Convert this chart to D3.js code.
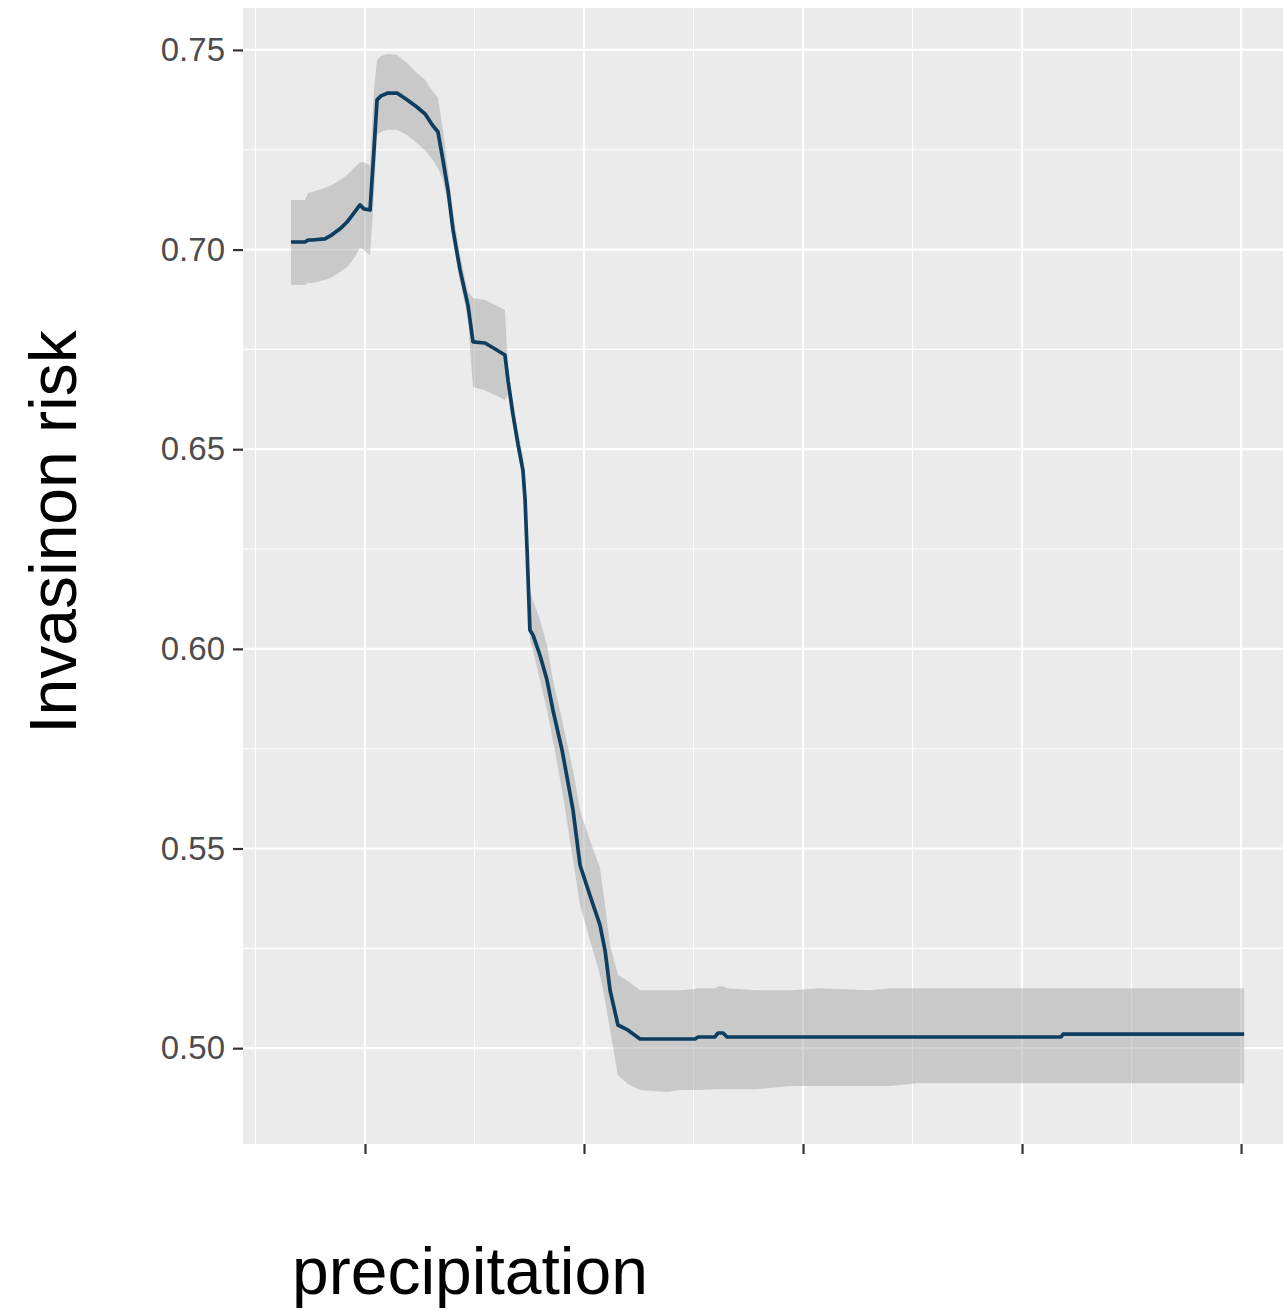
<!DOCTYPE html>
<html>
<head>
<meta charset="utf-8">
<script src="https://cdn.jsdelivr.net/npm/d3@7"></script>
<style>
  body { margin: 0; background: #fff; }
  svg { display: block; font-family: 'Liberation Sans', Arial, sans-serif; }
</style>
</head>
<body>
<div class="container"></div>
<script>
// Data.
const precipitation = [662, 726, 740, 758, 817, 849, 886, 918, 950, 977, 995, 1023, 1041, 1055, 1073,
  1105, 1146, 1192, 1237, 1274, 1310, 1333, 1356, 1379, 1402, 1434, 1470, 1493, 1548, 1594, 1639,
  1653, 1676, 1699, 1721, 1731, 1740, 1753, 1767, 1799, 1831, 1858, 1900, 1950, 1982, 2027, 2073,
  2096, 2119, 2155, 2201, 2256, 2379, 2438, 2507, 2521, 2598, 2612, 2635, 2653, 2781, 2941, 3078,
  3306, 3397, 3520, 4178, 4187, 5014];

const risk = [0.7019, 0.7019, 0.7024, 0.7024, 0.7027, 0.7037, 0.7052, 0.7069, 0.7092, 0.7112, 0.7102,
  0.7099, 0.7249, 0.7375, 0.7385, 0.7392, 0.7392, 0.7375, 0.7357, 0.7340, 0.7310, 0.7295, 0.7224,
  0.7149, 0.7049, 0.6949, 0.6861, 0.6769, 0.6766, 0.6751, 0.6736, 0.6673, 0.6586, 0.6511, 0.6448,
  0.6373, 0.6247, 0.6047, 0.6035, 0.5984, 0.5922, 0.5847, 0.5746, 0.5596, 0.5458, 0.5383, 0.5308,
  0.5245, 0.5145, 0.5058, 0.5045, 0.5023, 0.5023, 0.5023, 0.5023, 0.5028, 0.5028, 0.5038, 0.5038,
  0.5028, 0.5028, 0.5028, 0.5028, 0.5028, 0.5028, 0.5028, 0.5028, 0.5035, 0.5035];

const riskUpper = [0.7124, 0.7124, 0.7142, 0.7144, 0.7154, 0.7162, 0.7174, 0.7187, 0.7204, 0.7219,
  0.7219, 0.7212, 0.7400, 0.7475, 0.7485, 0.7490, 0.7487, 0.7467, 0.7442, 0.7425, 0.7395, 0.7380,
  0.7300, 0.7199, 0.7094, 0.6986, 0.6894, 0.6879, 0.6874, 0.6861, 0.6849, 0.6703, 0.6611, 0.6543,
  0.6485, 0.6423, 0.6310, 0.6147, 0.6122, 0.6072, 0.6010, 0.5922, 0.5822, 0.5696, 0.5596, 0.5521,
  0.5451, 0.5358, 0.5258, 0.5183, 0.5168, 0.5145, 0.5145, 0.5145, 0.5148, 0.5150, 0.5150, 0.5155,
  0.5155, 0.5150, 0.5145, 0.5145, 0.5150, 0.5145, 0.5150, 0.5150, 0.5150, 0.5150, 0.5150];

const riskLower = [0.6911, 0.6911, 0.6916, 0.6916, 0.6924, 0.6931, 0.6944, 0.6956, 0.6979, 0.7004,
  0.6999, 0.6986, 0.7137, 0.7287, 0.7295, 0.7300, 0.7300, 0.7287, 0.7267, 0.7249, 0.7224, 0.7204,
  0.7174, 0.7112, 0.7024, 0.6919, 0.6829, 0.6656, 0.6648, 0.6636, 0.6623, 0.6636, 0.6561, 0.6485,
  0.6423, 0.6348, 0.6222, 0.6022, 0.5997, 0.5922, 0.5847, 0.5772, 0.5646, 0.5471, 0.5358, 0.5271,
  0.5183, 0.5120, 0.5045, 0.4932, 0.4910, 0.4895, 0.4890, 0.4895, 0.4895, 0.4895, 0.4897, 0.4897,
  0.4897, 0.4897, 0.4897, 0.4905, 0.4905, 0.4905, 0.4905, 0.4912, 0.4912, 0.4912, 0.4912];

const yTicks = [0.50, 0.55, 0.60, 0.65, 0.70, 0.75];
const yTickLabels = ['0.50', '0.55', '0.60', '0.65', '0.70', '0.75'];
const yMinor = [0.525, 0.575, 0.625, 0.675, 0.725];
const xTicks = [1000, 2000, 3000, 4000, 5000];
const xTickLabels = ['', '', '', '', ''];
const xMinor = [500, 1500, 2500, 3500, 4500];

// Layout.
const width = 1283;
const height = 1311;
const panel = { left: 243, top: 8, right: 1291, bottom: 1144 };

const rows = precipitation.map((p, i) => ({
  p, y: risk[i], hi: riskUpper[i], lo: riskLower[i]
}));

const x = d3.scaleLinear().domain([443, 5228]).range([panel.left, panel.right]);
const y = d3.scaleLinear().domain([0.476, 0.7605]).range([panel.bottom, panel.top]);

const svg = d3.select('.container').append('svg')
  .attr('width', width)
  .attr('height', height);

// Panel background.
svg.append('rect')
  .attr('x', panel.left)
  .attr('y', panel.top)
  .attr('width', panel.right - panel.left)
  .attr('height', panel.bottom - panel.top)
  .attr('fill', '#ebebeb');

// Grid lines.
const grid = svg.append('g').attr('stroke', '#fff');
grid.selectAll('.ymin').data(yMinor).join('line')
  .attr('x1', panel.left).attr('x2', panel.right)
  .attr('y1', d => y(d)).attr('y2', d => y(d))
  .attr('stroke-width', 1.1);
grid.selectAll('.xmin').data(xMinor).join('line')
  .attr('y1', panel.top).attr('y2', panel.bottom)
  .attr('x1', d => x(d)).attr('x2', d => x(d))
  .attr('stroke-width', 1.1);
grid.selectAll('.ymaj').data(yTicks).join('line')
  .attr('x1', panel.left).attr('x2', panel.right)
  .attr('y1', d => y(d)).attr('y2', d => y(d))
  .attr('stroke-width', 2.2);
grid.selectAll('.xmaj').data(xTicks).join('line')
  .attr('y1', panel.top).attr('y2', panel.bottom)
  .attr('x1', d => x(d)).attr('x2', d => x(d))
  .attr('stroke-width', 2.2);

// Confidence ribbon.
svg.append('path')
  .datum(rows)
  .attr('fill', '#a0a0a0')
  .attr('fill-opacity', 0.45)
  .attr('d', d3.area().x(d => x(d.p)).y0(d => y(d.lo)).y1(d => y(d.hi)));

// Fitted line.
svg.append('path')
  .datum(rows)
  .attr('fill', 'none')
  .attr('stroke', '#0d3d5f')
  .attr('stroke-width', 3.7)
  .attr('stroke-linejoin', 'round')
  .attr('d', d3.line().x(d => x(d.p)).y(d => y(d.y)));

// Axes.
const yAxis = svg.append('g')
  .attr('transform', `translate(${panel.left},0)`)
  .call(d3.axisLeft(y).tickValues(yTicks)
    .tickFormat((d, i) => yTickLabels[i]).tickSize(10).tickPadding(8));
const xAxis = svg.append('g')
  .attr('transform', `translate(0,${panel.bottom})`)
  .call(d3.axisBottom(x).tickValues(xTicks)
    .tickFormat((d, i) => xTickLabels[i]).tickSize(10));

[yAxis, xAxis].forEach(a => {
  a.select('.domain').remove();
  a.selectAll('.tick line').attr('stroke', '#333').attr('stroke-width', 2.2);
});
yAxis.selectAll('.tick text')
  .attr('fill', '#4d4d4d')
  .style('font-size', '33px')
  .style('font-family', "'Liberation Sans', Arial, sans-serif");

// Axis titles.
svg.append('text')
  .attr('transform', 'translate(76,532) rotate(-90)')
  .attr('text-anchor', 'middle')
  .style('font-size', '66px')
  .attr('fill', '#000')
  .text('Invasinon risk');

svg.append('text')
  .attr('x', 470)
  .attr('y', 1294)
  .attr('text-anchor', 'middle')
  .style('font-size', '66px')
  .attr('fill', '#000')
  .text('precipitation');
</script>
</body>
</html>
